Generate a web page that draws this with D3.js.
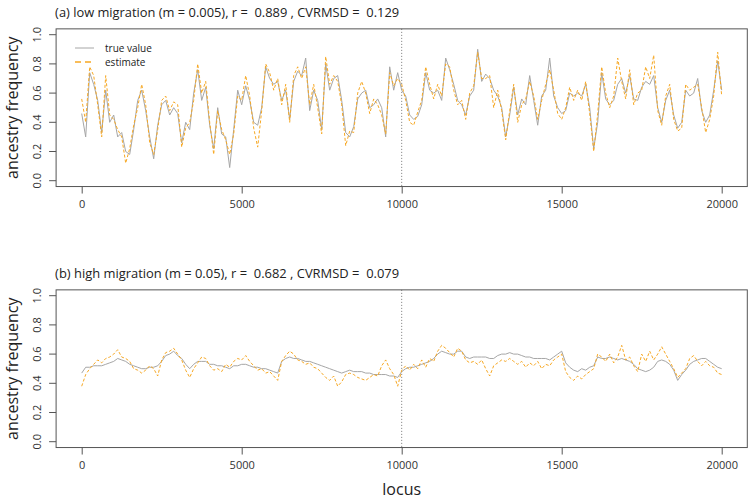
<!DOCTYPE html>
<html>
<head>
<meta charset="utf-8">
<script src="https://cdnjs.cloudflare.com/ajax/libs/d3/7.8.5/d3.min.js"></script>
<style>
  body { margin: 0; background: #fff; }
  text { font-family: "Open Sans", "DejaVu Sans", sans-serif; }
</style>
</head>
<body>
<div id="chart"></div>
<script>
// one reading every 125 loci, locus 0 .. 20000
var step = 125;
var xTicks = [0, 5000, 10000, 15000, 20000];
var yTicks = [0, 0.2, 0.4, 0.6, 0.8, 1.0];
var splitLocus = 10000;
var titles = [
  "(a) low migration (m = 0.005), r =  0.889 , CVRMSD =  0.129",
  "(b) high migration (m = 0.05), r =  0.682 , CVRMSD =  0.079"
];
var legendLabels = ["true value", "estimate"];

// panel (a), low migration
var trueA = [
  0.46,0.30,0.74,0.66,0.55,0.33,0.62,0.40,0.45,0.30,0.33,0.20,0.18,0.35,0.55,0.62,0.48,0.30,0.15,0.38,
  0.52,0.55,0.45,0.50,0.46,0.26,0.40,0.35,0.60,0.76,0.55,0.64,0.38,0.22,0.50,0.32,0.30,0.09,0.35,0.62,
  0.52,0.65,0.55,0.40,0.38,0.50,0.78,0.70,0.66,0.68,0.55,0.62,0.42,0.68,0.75,0.72,0.84,0.48,0.62,0.55,
  0.35,0.80,0.62,0.70,0.72,0.55,0.33,0.30,0.37,0.56,0.60,0.62,0.50,0.52,0.56,0.50,0.30,0.78,0.62,0.74,
  0.62,0.58,0.45,0.42,0.44,0.52,0.74,0.62,0.60,0.62,0.55,0.84,0.76,0.66,0.55,0.52,0.45,0.58,0.62,0.90,
  0.68,0.73,0.70,0.62,0.58,0.50,0.30,0.45,0.64,0.45,0.56,0.52,0.72,0.55,0.38,0.58,0.62,0.84,0.58,0.50,
  0.46,0.48,0.60,0.58,0.60,0.58,0.66,0.50,0.22,0.40,0.74,0.56,0.52,0.55,0.66,0.70,0.60,0.72,0.56,0.55,
  0.64,0.68,0.66,0.72,0.50,0.40,0.55,0.62,0.45,0.36,0.40,0.62,0.58,0.60,0.70,0.48,0.40,0.45,0.62,0.82,
  0.62
];
var estA = [
  0.56,0.40,0.78,0.72,0.52,0.30,0.72,0.45,0.42,0.35,0.30,0.12,0.22,0.38,0.50,0.66,0.52,0.26,0.18,0.35,
  0.55,0.58,0.48,0.54,0.52,0.23,0.36,0.40,0.55,0.80,0.60,0.68,0.40,0.18,0.48,0.35,0.28,0.18,0.32,0.58,
  0.55,0.72,0.58,0.36,0.23,0.48,0.80,0.74,0.62,0.70,0.52,0.66,0.40,0.72,0.78,0.70,0.78,0.52,0.66,0.50,
  0.32,0.85,0.66,0.72,0.68,0.52,0.24,0.34,0.33,0.60,0.68,0.60,0.46,0.56,0.52,0.45,0.32,0.74,0.65,0.70,
  0.66,0.55,0.40,0.38,0.47,0.55,0.78,0.66,0.56,0.66,0.58,0.80,0.78,0.62,0.52,0.55,0.42,0.60,0.65,0.88,
  0.70,0.70,0.72,0.50,0.62,0.48,0.28,0.48,0.66,0.40,0.52,0.56,0.68,0.58,0.42,0.55,0.66,0.76,0.62,0.46,
  0.42,0.50,0.64,0.55,0.62,0.55,0.68,0.46,0.20,0.46,0.78,0.60,0.50,0.58,0.84,0.68,0.56,0.76,0.52,0.60,
  0.62,0.78,0.70,0.86,0.48,0.38,0.58,0.66,0.42,0.34,0.36,0.66,0.62,0.64,0.66,0.50,0.33,0.42,0.58,0.88,
  0.58
];

// panel (b), high migration
var trueB = [
  0.47,0.51,0.51,0.52,0.52,0.52,0.53,0.54,0.55,0.57,0.56,0.55,0.53,0.52,0.51,0.50,0.50,0.51,0.51,0.52,
  0.55,0.59,0.60,0.62,0.59,0.57,0.53,0.50,0.53,0.55,0.55,0.55,0.53,0.53,0.52,0.52,0.51,0.50,0.52,0.52,
  0.53,0.53,0.52,0.51,0.51,0.50,0.50,0.49,0.48,0.47,0.55,0.57,0.58,0.57,0.57,0.56,0.55,0.55,0.54,0.53,
  0.52,0.51,0.50,0.49,0.48,0.47,0.48,0.49,0.48,0.48,0.48,0.47,0.47,0.46,0.46,0.46,0.46,0.45,0.45,0.44,
  0.48,0.50,0.51,0.51,0.52,0.53,0.54,0.55,0.57,0.60,0.62,0.61,0.60,0.60,0.62,0.62,0.58,0.57,0.58,0.58,
  0.58,0.58,0.57,0.57,0.59,0.60,0.60,0.61,0.60,0.60,0.59,0.58,0.58,0.57,0.57,0.57,0.57,0.56,0.58,0.60,
  0.62,0.54,0.51,0.49,0.48,0.50,0.49,0.51,0.52,0.58,0.57,0.57,0.58,0.57,0.56,0.57,0.56,0.55,0.53,0.50,
  0.49,0.48,0.49,0.51,0.55,0.56,0.55,0.53,0.49,0.42,0.46,0.49,0.53,0.55,0.56,0.57,0.57,0.55,0.53,0.51,
  0.50
];
var estB = [
  0.38,0.46,0.50,0.53,0.56,0.54,0.57,0.58,0.60,0.63,0.58,0.57,0.55,0.50,0.49,0.47,0.49,0.52,0.50,0.45,
  0.56,0.61,0.62,0.64,0.60,0.56,0.49,0.44,0.50,0.54,0.58,0.57,0.52,0.49,0.50,0.48,0.53,0.51,0.55,0.57,
  0.56,0.59,0.55,0.52,0.49,0.50,0.47,0.48,0.45,0.42,0.55,0.59,0.62,0.60,0.56,0.55,0.53,0.54,0.51,0.50,
  0.47,0.44,0.42,0.45,0.38,0.41,0.46,0.47,0.46,0.44,0.43,0.42,0.44,0.46,0.45,0.52,0.56,0.50,0.46,0.38,
  0.49,0.52,0.49,0.53,0.50,0.56,0.51,0.57,0.55,0.62,0.66,0.64,0.61,0.58,0.64,0.62,0.56,0.54,0.55,0.53,
  0.56,0.50,0.45,0.52,0.54,0.56,0.55,0.57,0.55,0.53,0.55,0.51,0.54,0.52,0.55,0.50,0.53,0.52,0.56,0.58,
  0.60,0.48,0.44,0.42,0.45,0.43,0.46,0.48,0.50,0.60,0.58,0.55,0.60,0.54,0.58,0.66,0.56,0.58,0.52,0.48,
  0.60,0.55,0.62,0.56,0.60,0.65,0.60,0.55,0.50,0.44,0.47,0.50,0.57,0.59,0.55,0.52,0.55,0.52,0.51,0.47,
  0.46
];

var width = 750, height = 499;
var grayCol = "#a6a6a6", orangeCol = "#f7a823", axisCol = "#555";

var svg = d3.select("#chart").append("svg")
    .attr("width", width)
    .attr("height", height);

var xScale = d3.scaleLinear()
    .domain([0, 20000])
    .range([81.7, 721.7]);

function toPoints(vals) {
  return vals.map(function(v, i) { return [i * step, v]; });
}

function drawPanel(top, title, trueVals, estVals, showLegend) {
  var yScale = d3.scaleLinear()
      .domain([0, 1])
      .range([top + 150.7, top + 4.7]);

  var boxLeft = xScale(-800), boxRight = xScale(20800);
  var boxTop = yScale(1.04), boxBottom = yScale(-0.04);

  var g = svg.append("g");

  var line = d3.line()
      .x(function(d) { return xScale(d[0]); })
      .y(function(d) { return yScale(d[1]); });

  // dotted split at locus 10000
  g.append("line")
    .attr("x1", xScale(splitLocus)).attr("x2", xScale(splitLocus))
    .attr("y1", boxTop).attr("y2", boxBottom)
    .style("stroke", "#777")
    .style("stroke-width", 1)
    .style("stroke-dasharray", "1,2");

  g.append("path")
    .datum(toPoints(trueVals))
    .attr("d", line)
    .style("fill", "none")
    .style("stroke", grayCol)
    .style("stroke-width", 1);

  g.append("path")
    .datum(toPoints(estVals))
    .attr("d", line)
    .style("fill", "none")
    .style("stroke", orangeCol)
    .style("stroke-width", 1)
    .style("stroke-dasharray", "3,2");

  g.append("rect")
    .attr("x", boxLeft).attr("y", boxTop)
    .attr("width", boxRight - boxLeft)
    .attr("height", boxBottom - boxTop)
    .style("fill", "none")
    .style("stroke", axisCol)
    .style("stroke-width", 1);

  var xAxis = d3.axisBottom(xScale)
      .tickValues(xTicks)
      .tickSize(7)
      .tickPadding(7)
      .tickFormat(d3.format("d"));

  var xg = g.append("g")
    .attr("transform", "translate(0," + boxBottom + ")")
    .call(xAxis);
  xg.select(".domain").remove();

  var yAxis = d3.axisLeft(yScale)
      .tickValues(yTicks)
      .tickSize(7)
      .tickFormat(d3.format(".1f"));

  var yg = g.append("g")
    .attr("transform", "translate(" + boxLeft + ",0)")
    .call(yAxis);
  yg.select(".domain").remove();
  yg.selectAll("text")
    .attr("x", null).attr("dy", null)
    .attr("text-anchor", "middle")
    .attr("transform", function(d) { return "translate(-19," + yScale(d) + ") rotate(-90)"; })
    .attr("y", 0)
    .attr("dy", "0.35em");
  yg.selectAll(".tick").attr("transform", null);
  yg.selectAll(".tick line")
    .attr("y1", function(d) { return yScale(d); })
    .attr("y2", function(d) { return yScale(d); });

  g.selectAll(".tick line").style("stroke", axisCol);
  g.selectAll(".tick text")
    .style("fill", "#333")
    .style("font-size", "11px")
    .style("font-family", "'Open Sans', sans-serif");

  g.append("text")
    .attr("x", boxLeft - 1)
    .attr("y", boxTop - 12)
    .attr("textLength", 344)
    .attr("lengthAdjust", "spacingAndGlyphs")
    .style("white-space", "pre")
    .style("font-size", "13px")
    .style("fill", "#222")
    .text(title);

  g.append("text")
    .attr("transform", "translate(18," + ((boxTop + boxBottom) / 2) + ") rotate(-90)")
    .attr("text-anchor", "middle")
    .style("font-size", "16px")
    .style("fill", "#222")
    .text("ancestry frequency");

  if (showLegend) {
    var lx = 75, ly = [48, 62];
    g.append("line")
      .attr("x1", lx).attr("x2", lx + 19).attr("y1", ly[0]).attr("y2", ly[0])
      .style("stroke", grayCol).style("stroke-width", 1);
    g.append("line")
      .attr("x1", lx).attr("x2", lx + 19).attr("y1", ly[1]).attr("y2", ly[1])
      .style("stroke", orangeCol).style("stroke-width", 1.5)
      .style("stroke-dasharray", "6,4");
    g.selectAll(".legtext")
      .data(legendLabels)
     .enter()
      .append("text")
      .attr("x", 105)
      .attr("y", function(d, i) { return ly[i]; })
      .attr("dy", "0.35em")
      .style("font-size", "10px")
      .style("fill", "#222")
      .text(function(d) { return d; });
  }
}

drawPanel(30, titles[0], trueA, estA, true);
drawPanel(291, titles[1], trueB, estB, false);

svg.append("text")
  .attr("x", xScale(10000))
  .attr("y", 495)
  .attr("text-anchor", "middle")
  .style("font-size", "16px")
  .style("fill", "#222")
  .text("locus");
</script>
</body>
</html>
